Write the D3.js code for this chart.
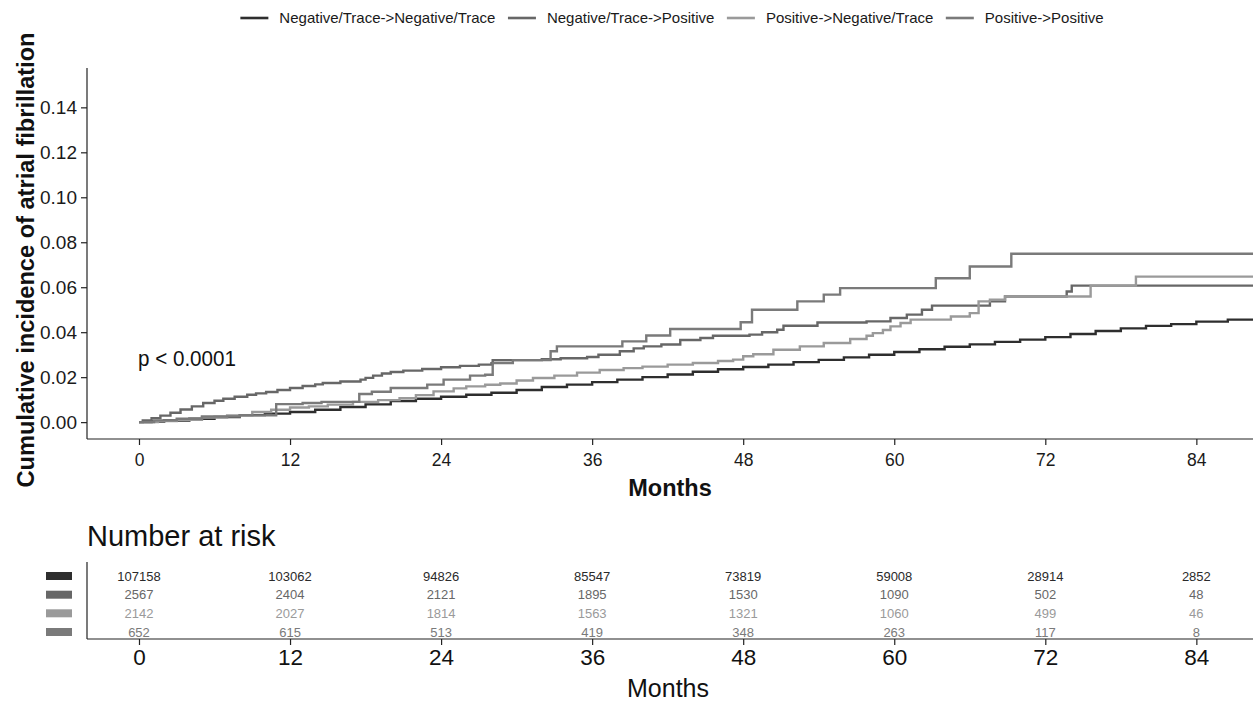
<!DOCTYPE html>
<html>
<head>
<meta charset="utf-8">
<script src="https://cdn.jsdelivr.net/npm/d3@7"></script>
<style>
  html, body { margin: 0; padding: 0; background: #fff; }
  svg { display: block; }
  text { font-family: "Liberation Sans", Arial, Helvetica, sans-serif; }
</style>
</head>
<body>
<svg id="chart" width="1253" height="704"></svg>
<script>
// ---------------- DATA ----------------
const seriesNames = [
  "Negative/Trace->Negative/Trace",
  "Negative/Trace->Positive",
  "Positive->Negative/Trace",
  "Positive->Positive"
];
const seriesColors = ["#2e2e2e", "#676767", "#9a9a9a", "#7a7a7a"];

// cumulative incidence step points [month, value]
const negNeg = [
  [0,0],[1,0.0003],[2,0.0007],[4,0.0015],[6,0.0023],[8,0.0031],[10,0.0038],[12,0.0045],
  [14,0.0055],[16,0.0067],[18,0.0079],[20,0.0094],[22,0.0104],[24,0.0113],[26,0.0122],
  [28,0.0131],[30,0.0143],[32,0.0156],[34,0.0167],[36,0.0178],[38,0.0189],[40,0.0200],
  [42,0.0212],[44,0.0224],[46,0.0235],[48,0.0245],[50,0.0256],[52,0.0267],[54,0.0277],
  [56,0.0288],[58,0.0300],[60,0.0312],[62,0.0324],[64,0.0335],[66,0.0346],[68,0.0357],
  [70,0.0367],[72,0.0378],[74,0.0392],[76,0.0405],[78,0.0417],[80,0.0428],[82,0.0436],
  [84,0.0447],[86.5,0.0456]
];
const negPos = [
  [0,0],[0.3,0.0008],[1,0.0018],[1.7,0.0029],[2.5,0.0042],[3.3,0.0056],[4.2,0.0070],
  [5.1,0.0085],[6,0.0095],[6.7,0.0104],[7.6,0.0113],[8.6,0.0122],[9.3,0.0128],[10.1,0.0134],
  [11,0.0143],[12,0.0152],[13,0.0161],[14,0.0168],[14.6,0.0174],[16,0.0181],[17.6,0.0189],
  [18,0.0197],[18.6,0.0207],[19.3,0.0216],[20,0.0223],[21,0.0229],[22.5,0.0236],[24,0.0244],
  [25.5,0.0250],[27,0.0256],[28,0.0262],[28.1,0.0276],[32,0.0280],[33.5,0.0284],[35.6,0.0290],
  [36.5,0.0300],[38.2,0.0315],[39.3,0.0328],[40.1,0.0337],[41.5,0.0345],[43,0.0365],
  [44.6,0.0374],[45.6,0.0384],[48.5,0.0389],[49.5,0.0400],[50.7,0.0411],[51.2,0.0429],
  [53.9,0.0443],[57.8,0.0448],[59.7,0.0463],[61,0.0478],[62.2,0.0500],[63,0.0518],
  [67.6,0.0537],[68.8,0.0559],[73.7,0.0581],[74.1,0.0607]
];
const posNeg = [
  [0,0],[1.5,0.0005],[3,0.0010],[5,0.0020],[7,0.0030],[9,0.0045],[10.5,0.0055],[12,0.0065],
  [13.5,0.0070],[15,0.0078],[17,0.0090],[19,0.0098],[20.7,0.0107],[22,0.0120],[23.4,0.0137],
  [25,0.0150],[26,0.0159],[27.5,0.0166],[28.7,0.0172],[30,0.0185],[31.3,0.0196],[33,0.0207],
  [34.8,0.0220],[36.6,0.0232],[38.5,0.0240],[40,0.0247],[42,0.0256],[44,0.0263],[46,0.0272],
  [47.2,0.0278],[48,0.0293],[48.8,0.0302],[50.4,0.0322],[52.5,0.0337],[54.4,0.0352],
  [56.5,0.0370],[57.8,0.0384],[58.3,0.0396],[59.1,0.0410],[59.7,0.0426],[60.5,0.0441],
  [61.3,0.0456],[64.5,0.0470],[66,0.0485],[66.7,0.0537],[67.6,0.0544],[68.8,0.0559],
  [75.6,0.0607],[79.2,0.0647]
];
const posPos = [
  [0,0],[1.2,0.0008],[3,0.0015],[5,0.0025],[8,0.0030],[10.9,0.0080],[13,0.0085],[14.5,0.0090],
  [17.5,0.0125],[18.5,0.0135],[20,0.0152],[22.9,0.0167],[24.2,0.0189],[26.3,0.0207],
  [27.5,0.0211],[28.1,0.0263],[29.7,0.0276],[32.7,0.0315],[33.2,0.0337],[38.4,0.0359],
  [40.3,0.0385],[42.2,0.0414],[47.8,0.0444],[48.7,0.0500],[52.3,0.0537],[54.4,0.0567],
  [55.7,0.0596],[63.3,0.0640],[66,0.0692],[69.3,0.0749]
];
const seriesData = [negNeg, negPos, posNeg, posPos];
const followUpEnd = 88.5;

const yTicks = [0, 0.02, 0.04, 0.06, 0.08, 0.10, 0.12, 0.14];
const xTicks = [0, 12, 24, 36, 48, 60, 72, 84];

const riskTimes = [0, 12, 24, 36, 48, 60, 72, 84];
const riskNegNeg = [107158, 103062, 94826, 85547, 73819, 59008, 28914, 2852];
const riskNegPos = [2567, 2404, 2121, 1895, 1530, 1090, 502, 48];
const riskPosNeg = [2142, 2027, 1814, 1563, 1321, 1060, 499, 46];
const riskPosPos = [652, 615, 513, 419, 348, 263, 117, 8];
const riskRows = [riskNegNeg, riskNegPos, riskPosNeg, riskPosPos];

const pValueText = "p < 0.0001";
const yTitle = "Cumulative incidence of atrial fibrillation";
const xTitle = "Months";
const riskTitle = "Number at risk";

// ---------------- LAYOUT ----------------
const svg = d3.select("#chart");
const FONT = '"Liberation Sans", Arial, Helvetica, sans-serif';
const panel = { left: 87, right: 1253, top: 68, bottom: 439 };

const x = d3.scaleLinear().domain([-4.13, 88.5]).range([panel.left, panel.right]);
const y = d3.scaleLinear().domain([-0.0075, 0.1575]).range([panel.bottom, panel.top]);

// clip
svg.append("defs").append("clipPath").attr("id", "clip")
  .append("rect").attr("x", panel.left).attr("y", panel.top)
  .attr("width", panel.right - panel.left).attr("height", panel.bottom - panel.top);

// curves
const line = d3.line().x(d => x(d[0])).y(d => y(d[1])).curve(d3.curveStepAfter);
const curves = svg.append("g").attr("clip-path", "url(#clip)");
seriesData.forEach((s, i) => {
  const pts = s.concat([[followUpEnd, s[s.length - 1][1]]]);
  curves.append("path").datum(pts)
    .attr("d", line)
    .attr("fill", "none")
    .attr("stroke", seriesColors[i])
    .attr("stroke-width", 2.4)
    .attr("stroke-linejoin", "miter");
});

// axes (main)
const axisColor = "#222";
const yAxis = svg.append("g").attr("transform", `translate(${panel.left},0)`)
  .call(d3.axisLeft(y).tickValues(yTicks).tickFormat(d3.format(".2f")).tickSize(6).tickPadding(4));
yAxis.select(".domain").attr("d", `M0,${panel.top}V${panel.bottom}`);
const xAxis = svg.append("g").attr("transform", `translate(0,${panel.bottom})`)
  .call(d3.axisBottom(x).tickValues(xTicks).tickSize(6).tickPadding(9));
xAxis.select(".domain").attr("d", `M${panel.left},0H${panel.right}`);
[yAxis, xAxis].forEach(g => {
  g.select(".domain").attr("stroke", axisColor).attr("stroke-width", 1.2);
  g.selectAll(".tick line").attr("stroke", axisColor).attr("stroke-width", 1.2);
  g.selectAll(".tick text").attr("fill", "#1a1a1a").style("font-family", FONT).style("font-size", "19px");
});
xAxis.selectAll(".tick text").style("font-size", "17.5px");

// titles
svg.append("text").attr("x", 670).attr("y", 496).attr("text-anchor", "middle")
  .style("font-size", "23.5px").style("font-weight", "bold").attr("fill", "#111").text(xTitle);
svg.append("text").attr("transform", `translate(34,260) rotate(-90)`).attr("text-anchor", "middle")
  .attr("textLength", 455).attr("lengthAdjust", "spacingAndGlyphs")
  .style("font-size", "24.5px").style("font-weight", "bold").attr("fill", "#111").text(yTitle);

// p-value
svg.append("text").attr("x", x(0) - 1).attr("y", 366).style("font-size", "22px")
  .attr("textLength", 98).attr("lengthAdjust", "spacingAndGlyphs")
  .attr("fill", "#111").text(pValueText);

// legend
const legend = svg.append("g");
let lx = 0;
seriesNames.forEach((n, i) => {
  const g = legend.append("g");
  g.append("line").attr("x1", 0).attr("x2", 28).attr("y1", 0).attr("y2", 0)
    .attr("stroke", seriesColors[i]).attr("stroke-width", 2.6);
  const t = g.append("text").attr("x", 39).attr("y", 5.3).style("font-size", "15px")
    .attr("fill", "#1a1a1a").text(n);
  const w = 39 + t.node().getComputedTextLength();
  g.attr("transform", `translate(${lx},18)`);
  lx += w + 12.5;
});
const totalW = lx - 12.5;
legend.attr("transform", `translate(${672 - totalW / 2},0)`);

// ---------------- RISK TABLE ----------------
const tPanel = { top: 562, bottom: 639 };
const rowY = [576, 594.7, 613.3, 632];
svg.append("text").attr("x", 87).attr("y", 546).style("font-size", "29px").attr("fill", "#111").text(riskTitle);

riskRows.forEach((row, i) => {
  svg.append("rect").attr("x", 46).attr("y", rowY[i] - 4).attr("width", 26).attr("height", 8)
    .attr("fill", seriesColors[i]);
  svg.append("g").selectAll("text").data(row).join("text")
    .attr("x", (d, j) => x(riskTimes[j]))
    .attr("y", rowY[i] + 4.6)
    .attr("text-anchor", "middle")
    .style("font-size", "13px")
    .attr("fill", i === 0 ? "#2a2a2a" : seriesColors[i])
    .text(d => d);
});

const tAxis = svg.append("g").attr("transform", `translate(0,${tPanel.bottom})`)
  .call(d3.axisBottom(x).tickValues(riskTimes).tickSize(6).tickPadding(4));
tAxis.select(".domain").attr("d", `M${panel.left},0H${panel.right}`).attr("stroke", axisColor).attr("stroke-width", 1.2);
tAxis.selectAll(".tick line").attr("stroke", axisColor).attr("stroke-width", 1.2);
tAxis.selectAll(".tick text").attr("fill", "#111").style("font-family", FONT).style("font-size", "22.5px");
svg.append("line").attr("x1", panel.left).attr("x2", panel.left).attr("y1", tPanel.top).attr("y2", tPanel.bottom)
  .attr("stroke", axisColor).attr("stroke-width", 1.2);
svg.append("text").attr("x", 668).attr("y", 697).attr("text-anchor", "middle")
  .style("font-size", "25px").attr("fill", "#111").text(xTitle);
</script>
</body>
</html>
